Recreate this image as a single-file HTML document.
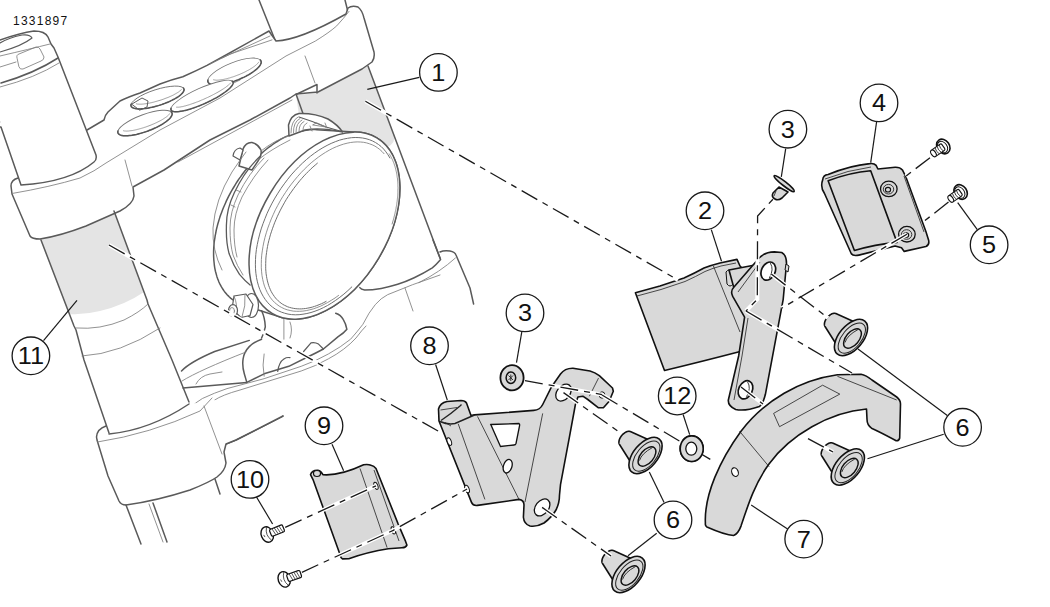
<!DOCTYPE html>
<html><head><meta charset="utf-8">
<style>
html,body{margin:0;padding:0;background:#fff;width:1050px;height:607px;overflow:hidden}
svg{display:block;position:absolute;left:0;top:0}
.c{fill:#fff;stroke:#1a1a1a;stroke-width:1.3}
.t{font-family:"Liberation Sans",sans-serif;font-size:23px;fill:#111;text-anchor:middle}
.ld{stroke:#1a1a1a;stroke-width:1.2;fill:none}
.ds{stroke:#1a1a1a;stroke-width:1.3;fill:none;stroke-dasharray:18 6 6 6}
.dw{stroke:#fff;stroke-width:3;fill:none}
.fk{stroke:#5a5a5a;stroke-width:1.5;fill:#fff;stroke-linejoin:round;stroke-linecap:round}
.fo{stroke:#5a5a5a;stroke-width:1.5;fill:none;stroke-linejoin:round;stroke-linecap:round}
.fl{stroke:#7e7e7e;stroke-width:0.85;fill:none;stroke-linecap:round}
.gb{fill:#e4e4e4;stroke:none}
.pt{fill:#d9d9d9;stroke:#111;stroke-width:1.6;stroke-linejoin:round}
.pl{fill:none;stroke:#222;stroke-width:0.8}
.pw{fill:#fff;stroke:#111;stroke-width:1.3}
</style></head><body>
<svg width="1050" height="607" viewBox="0 0 1050 607">
<text x="13" y="25" style="font-family:'Liberation Sans',sans-serif;font-size:12px;letter-spacing:1.25px" fill="#111">1331897</text>
<path class="gb" d="M296,95 L317,93 L367,66.5 L368,66 L395,137 Q393,147 382,149 Q362,146 345,138 L300,122 Z"/>
<path class="gb" d="M40,239 L86,226 L114,211 L144,292 Q125,305 100,311 Q84,315 69,314 Z"/>
<path d="M258,0 L276,41 Q300,40 348,14 L344,0 Z" fill="#fff"/>
<path class="fo" d="M259,0 L275,40 M345,0 L348,12"/>
<path class="fo" d="M368,66 L440,258"/>
<path class="fo" d="M296,94 L306,122"/>
<path class="fk" d="M11,186 Q11,180 18,178 L30,172 L87,130 L104,120 Q105,115 108,112 L120,101 Q128,97 140,93 L160,84 Q170,80 182.8,76.7 Q196,71 207,65.4 L223.3,56.5 L269,31 L271,34 L276,41 Q300,40 346,14 L348,8 Q352,5 358,7 Q362,10 364,18 L374,52 Q375,58 372,62 L362,69 L318,92 L296,94 L290,98 L250,120 L210,140 L164,170 L133,187 L134,196 Q133,204 120,211 L86,226 Q60,236 40,239 Q32,239 30,236 L12,194 Z"/>
<path class="fl" d="M12,193.5 Q50,187 80,178 Q95,171 106,163 L160,130 L220,98 L286,56 L315.3,41.1 Q330,32 336.7,25.9 Q344,18 349,11.4"/>
<path class="fl" d="M172,112 L240,80"/>
<path class="fl" d="M210,64 L230,54.1 L272,39.9 M222,58 L270,36"/>
<path class="fl" d="M125,160 L132,186"/>
<path class="fl" d="M305,56 L315,83"/>
<path class="fo" d="M296,94.5 L317,84.5 L317,93"/>
<path class="fl" d="M178,162 L292,100"/>
<ellipse cx="157.5" cy="97.5" rx="27.8" ry="8" transform="rotate(-17.8 157.5 97.5)" fill="#fff" stroke="#777" stroke-width="0.9"/>
<path d="M183.0,87.7 L183.4,88.0 L183.7,88.4 L183.9,88.9 L184.1,89.3 L184.1,89.8 L184.0,90.4 L183.8,90.9 L183.6,91.5 L183.2,92.1 L182.7,92.7 L182.2,93.4 L181.5,94.0 L180.8,94.7 L180.0,95.4 L179.1,96.1 L178.1,96.8 L177.0,97.5 L175.9,98.2 L174.7,98.9 L173.4,99.5 L172.1,100.2 L170.7,100.9 L169.3,101.6 L167.8,102.2 L166.3,102.8 L164.8,103.4 L163.2,104.0 L161.6,104.6 L160.0,105.1 L158.4,105.6 L156.7,106.1 L155.1,106.5 L153.5,106.9 L151.9,107.3 L150.3,107.6 L148.8,107.9 L147.3,108.2 L145.8,108.4 L144.4,108.6 L143.0,108.7 L141.7,108.8 L140.4,108.9 L139.2,108.9 L138.0,108.9 L137.0,108.8 L136.0,108.7 L135.1,108.5 L134.2,108.3 L133.5,108.1 L132.8,107.8 L132.3,107.5 L131.8,107.2 L131.4,106.8 L131.2,106.3 L131.0,105.9 L130.9,105.4 L130.9,104.9 L131.1,104.3 L131.3,103.8" fill="none" stroke="#555" stroke-width="1.5"/>
<path d="M181.6,89.3 L181.3,89.6 L181.0,90.0 L180.6,90.3 L180.3,90.7 L179.8,91.0 L179.3,91.4 L178.8,91.8 L178.3,92.2 L177.7,92.5 L177.1,92.9 L176.4,93.3 L175.7,93.7 L175.0,94.1 L174.2,94.5 L173.4,95.0 L172.6,95.4 L171.7,95.8 L170.8,96.2 L169.9,96.6 L169.0,97.0 L168.1,97.4 L167.1,97.8 L166.1,98.1 L165.1,98.5 L164.1,98.9 L163.1,99.3 L162.1,99.6 L161.1,100.0 L160.0,100.3 L159.0,100.6 L157.9,100.9 L156.9,101.2 L155.8,101.5 L154.8,101.8 L153.8,102.1 L152.8,102.3 L151.8,102.6 L150.8,102.8 L149.8,103.0 L148.8,103.2 L147.9,103.4 L147.0,103.5 L146.1,103.7 L145.2,103.8 L144.3,103.9 L143.5,104.0 L142.7,104.1 L142.0,104.1 L141.2,104.2 L140.5,104.2 L139.9,104.2 L139.2,104.2 L138.7,104.2 L138.1,104.1 L137.6,104.1 L137.1,104.0 L136.7,103.9 L136.3,103.7 L136.0,103.6" fill="none" stroke="#888" stroke-width="0.8"/>
<ellipse cx="234.5" cy="71.5" rx="28.5" ry="9" transform="rotate(-21.6 234.5 71.5)" fill="#fff" stroke="#777" stroke-width="0.9"/>
<path d="M259.8,59.6 L260.3,60.0 L260.7,60.4 L260.9,60.9 L261.1,61.4 L261.2,61.9 L261.2,62.5 L261.1,63.2 L260.8,63.8 L260.5,64.5 L260.1,65.2 L259.6,66.0 L259.0,66.7 L258.3,67.5 L257.5,68.3 L256.7,69.1 L255.7,69.9 L254.7,70.7 L253.6,71.5 L252.4,72.3 L251.2,73.1 L249.9,74.0 L248.5,74.8 L247.1,75.5 L245.7,76.3 L244.2,77.1 L242.6,77.8 L241.0,78.5 L239.5,79.2 L237.8,79.9 L236.2,80.5 L234.6,81.1 L233.0,81.6 L231.3,82.1 L229.7,82.6 L228.1,83.1 L226.6,83.5 L225.0,83.8 L223.5,84.1 L222.1,84.4 L220.6,84.6 L219.3,84.7 L218.0,84.8 L216.7,84.9 L215.5,84.9 L214.4,84.9 L213.4,84.8 L212.4,84.7 L211.6,84.5 L210.8,84.2 L210.1,84.0 L209.5,83.6 L208.9,83.2 L208.5,82.8 L208.2,82.4 L208.0,81.9 L207.8,81.3 L207.8,80.8 L207.9,80.1 L208.0,79.5" fill="none" stroke="#555" stroke-width="1.5"/>
<path d="M258.9,61.8 L258.6,62.2 L258.4,62.6 L258.0,63.0 L257.7,63.4 L257.3,63.9 L256.8,64.3 L256.3,64.8 L255.8,65.2 L255.2,65.7 L254.6,66.2 L254.0,66.6 L253.3,67.1 L252.6,67.6 L251.8,68.1 L251.0,68.6 L250.2,69.1 L249.4,69.6 L248.5,70.1 L247.6,70.5 L246.7,71.0 L245.8,71.5 L244.8,72.0 L243.8,72.5 L242.9,72.9 L241.8,73.4 L240.8,73.8 L239.8,74.3 L238.8,74.7 L237.7,75.1 L236.7,75.5 L235.6,75.9 L234.6,76.3 L233.5,76.7 L232.5,77.0 L231.4,77.3 L230.4,77.7 L229.4,78.0 L228.4,78.2 L227.4,78.5 L226.4,78.8 L225.4,79.0 L224.5,79.2 L223.6,79.4 L222.7,79.6 L221.8,79.7 L221.0,79.8 L220.2,79.9 L219.4,80.0 L218.6,80.1 L217.9,80.1 L217.2,80.2 L216.5,80.2 L215.9,80.1 L215.3,80.1 L214.8,80.0 L214.3,79.9 L213.8,79.8 L213.4,79.7 L213.1,79.6" fill="none" stroke="#888" stroke-width="0.8"/>
<ellipse cx="145" cy="123" rx="28.8" ry="8.5" transform="rotate(-20.3 145 123)" fill="#fff" stroke="#777" stroke-width="0.9"/>
<path d="M170.9,111.6 L171.3,112.0 L171.7,112.4 L172.0,112.9 L172.1,113.4 L172.2,113.9 L172.1,114.5 L172.0,115.1 L171.7,115.7 L171.4,116.3 L170.9,117.0 L170.4,117.7 L169.8,118.4 L169.0,119.2 L168.2,119.9 L167.3,120.7 L166.3,121.5 L165.3,122.2 L164.1,123.0 L162.9,123.8 L161.6,124.6 L160.3,125.3 L158.9,126.1 L157.5,126.9 L156.0,127.6 L154.4,128.3 L152.9,129.0 L151.2,129.7 L149.6,130.3 L148.0,131.0 L146.3,131.6 L144.7,132.1 L143.0,132.6 L141.4,133.1 L139.7,133.6 L138.1,134.0 L136.5,134.4 L135.0,134.7 L133.4,135.0 L132.0,135.3 L130.5,135.5 L129.2,135.6 L127.8,135.7 L126.6,135.8 L125.4,135.8 L124.3,135.7 L123.3,135.7 L122.3,135.5 L121.4,135.4 L120.7,135.1 L120.0,134.9 L119.4,134.5 L118.9,134.2 L118.5,133.8 L118.2,133.4 L117.9,132.9 L117.8,132.4 L117.8,131.8 L117.9,131.2 L118.1,130.6" fill="none" stroke="#555" stroke-width="1.5"/>
<path d="M169.7,113.6 L169.5,114.0 L169.2,114.3 L168.8,114.7 L168.5,115.1 L168.0,115.5 L167.6,115.9 L167.0,116.4 L166.5,116.8 L165.9,117.2 L165.3,117.7 L164.6,118.1 L163.9,118.6 L163.1,119.1 L162.4,119.5 L161.6,120.0 L160.7,120.5 L159.9,120.9 L159.0,121.4 L158.1,121.8 L157.1,122.3 L156.2,122.8 L155.2,123.2 L154.2,123.7 L153.2,124.1 L152.1,124.5 L151.1,125.0 L150.0,125.4 L149.0,125.8 L147.9,126.2 L146.8,126.6 L145.8,127.0 L144.7,127.3 L143.6,127.7 L142.6,128.0 L141.5,128.3 L140.5,128.6 L139.4,128.9 L138.4,129.2 L137.4,129.4 L136.4,129.7 L135.4,129.9 L134.5,130.1 L133.5,130.3 L132.6,130.5 L131.8,130.6 L130.9,130.7 L130.1,130.8 L129.3,130.9 L128.5,131.0 L127.8,131.0 L127.1,131.1 L126.5,131.1 L125.8,131.1 L125.3,131.0 L124.7,131.0 L124.2,130.9 L123.8,130.8 L123.4,130.7 L123.0,130.5" fill="none" stroke="#888" stroke-width="0.8"/>
<ellipse cx="202" cy="96" rx="34" ry="8" transform="rotate(-24.3 202 96)" fill="#fff" stroke="#777" stroke-width="0.9"/>
<path d="M231.7,80.8 L232.2,81.1 L232.6,81.5 L232.9,81.9 L233.1,82.3 L233.2,82.9 L233.1,83.4 L232.9,84.0 L232.6,84.7 L232.2,85.3 L231.7,86.1 L231.1,86.8 L230.4,87.6 L229.5,88.5 L228.6,89.3 L227.6,90.2 L226.4,91.1 L225.2,92.0 L223.9,93.0 L222.5,93.9 L221.0,94.9 L219.5,95.9 L217.9,96.8 L216.2,97.8 L214.5,98.7 L212.7,99.7 L210.9,100.6 L209.1,101.5 L207.2,102.4 L205.3,103.3 L203.4,104.1 L201.5,104.9 L199.6,105.7 L197.7,106.4 L195.9,107.1 L194.0,107.8 L192.2,108.4 L190.4,109.0 L188.7,109.5 L187.0,110.0 L185.3,110.4 L183.8,110.8 L182.3,111.1 L180.8,111.3 L179.5,111.5 L178.2,111.7 L177.0,111.8 L175.9,111.8 L174.9,111.7 L174.0,111.6 L173.3,111.5 L172.6,111.3 L172.0,111.0 L171.5,110.7 L171.2,110.3 L171.0,109.9 L170.9,109.4 L170.9,108.9 L171.0,108.3 L171.2,107.7" fill="none" stroke="#555" stroke-width="1.5"/>
<path d="M230.7,82.8 L230.4,83.2 L230.0,83.6 L229.6,84.0 L229.1,84.5 L228.6,84.9 L228.1,85.4 L227.5,85.9 L226.8,86.4 L226.1,86.9 L225.4,87.5 L224.6,88.0 L223.8,88.6 L222.9,89.1 L222.0,89.7 L221.0,90.3 L220.1,90.9 L219.0,91.5 L218.0,92.1 L216.9,92.7 L215.8,93.3 L214.7,93.9 L213.5,94.5 L212.4,95.1 L211.2,95.7 L210.0,96.3 L208.8,96.9 L207.5,97.5 L206.3,98.0 L205.1,98.6 L203.8,99.2 L202.6,99.7 L201.3,100.2 L200.1,100.8 L198.8,101.3 L197.6,101.8 L196.4,102.2 L195.2,102.7 L194.0,103.1 L192.8,103.5 L191.7,103.9 L190.5,104.3 L189.4,104.7 L188.3,105.0 L187.3,105.3 L186.2,105.6 L185.3,105.9 L184.3,106.1 L183.4,106.4 L182.5,106.6 L181.7,106.7 L180.9,106.9 L180.1,107.0 L179.4,107.1 L178.7,107.2 L178.1,107.2 L177.5,107.2 L177.0,107.2 L176.5,107.2 L176.1,107.1" fill="none" stroke="#888" stroke-width="0.8"/>
<path class="fo" style="stroke-width:1" d="M132,104 L142,98 L148,101 L147,107 L140,110 Z"/>
<path class="fk" d="M-5,42 L0,40 Q20,33 34,31 Q45,31 48,37 L51,44 L54,48 L58,57 L96,155 Q97,160 94,162 Q70,182 21,185 L1,127 L-5,127 Z"/>
<path class="fo" d="M1,83 Q35,73 58,58"/>
<path class="fl" d="M0,87 Q35,78 59,63"/>
<path class="fo" style="stroke-width:1.2" d="M0,52 Q22,46 32,38 Q30,34 22,35 Q8,38 0,43"/>
<path class="fl" d="M0,56 Q30,49 50,44"/>
<path class="fl" d="M17,58 Q16,55 19,54 L36,47 Q39,47 40,49 L44,57 Q44,60 41,61 L23,69 Q20,70 19,67 Z"/>
<path class="fl" d="M0,67 L16,62"/>
<path class="fl" d="M0,122 L0,122"/>
<path class="fk" d="M243.0,305.1 L241.5,304.6 L240.0,304.0 L238.6,303.3 L237.2,302.6 L235.8,301.8 L234.4,300.9 L233.1,300.0 L231.9,299.1 L230.6,298.1 L229.4,297.0 L228.3,295.9 L227.1,294.7 L226.1,293.5 L225.0,292.2 L224.0,290.9 L223.1,289.5 L222.2,288.1 L221.3,286.7 L220.5,285.1 L219.7,283.6 L218.9,282.0 L218.3,280.3 L217.6,278.6 L217.0,276.9 L216.5,275.1 L216.0,273.3 L215.5,271.5 L215.1,269.6 L214.7,267.6 L214.4,265.7 L214.2,263.7 L214.0,261.7 L213.8,259.6 L213.7,257.6 L213.6,255.5 L213.6,253.3 L213.6,251.2 L213.7,249.0 L213.8,246.8 L214.0,244.6 L214.2,242.4 L214.5,240.1 L214.9,237.8 L215.2,235.6 L215.7,233.3 L216.1,231.0 L216.6,228.7 L217.2,226.4 L217.8,224.0 L218.5,221.7 L219.2,219.4 L219.9,217.1 L220.7,214.7 L221.6,212.4 L222.5,210.1 L223.4,207.8 L224.4,205.5 L225.4,203.2 L226.4,200.9 L227.5,198.6 L228.6,196.4 L229.8,194.1 L231.0,191.9 L232.3,189.7 L233.6,187.5 L234.9,185.3 L236.2,183.2 L237.6,181.0 L239.0,178.9 L240.5,176.9 L242.0,174.8 L243.5,172.8 L245.0,170.8 L246.6,168.9 L248.2,167.0 L249.8,165.1 L251.5,163.3 L253.1,161.5 L254.8,159.7 L256.5,158.0 L258.3,156.3 L260.0,154.7 L261.8,153.1 L263.6,151.5 L265.4,150.0 L267.2,148.5 L269.0,147.1 L270.9,145.8 L272.7,144.5 L274.6,143.2 L276.4,142.0 L278.3,140.8 L280.2,139.7 L282.0,138.7 L283.9,137.7 L285.8,136.7 L287.7,135.9 L289.6,135.0 L291.5,134.3 L293.3,133.5 L295.2,132.9 L297.1,132.3 L298.9,131.8 L300.8,131.3 L302.6,130.9 L304.4,130.5 L306.2,130.2 L308.0,130.0 L309.8,129.8 L311.6,129.7 L313.3,129.6 L315.0,129.6 L316.7,129.7 L357.5,132.2 L359.3,132.3 L361.0,132.5 L362.7,132.8 L364.4,133.1 L366.1,133.5 L367.7,133.9 L369.3,134.4 L370.9,135.0 L372.4,135.6 L373.9,136.3 L375.4,137.1 L376.8,137.9 L378.2,138.8 L379.6,139.7 L380.9,140.7 L382.2,141.8 L383.5,142.9 L384.7,144.0 L385.9,145.3 L387.0,146.5 L388.1,147.9 L389.1,149.3 L390.1,150.7 L391.0,152.2 L392.0,153.7 L392.8,155.3 L393.6,157.0 L394.4,158.7 L395.1,160.4 L395.8,162.2 L396.4,164.0 L397.0,165.8 L397.5,167.7 L397.9,169.7 L398.4,171.7 L398.7,173.7 L399.0,175.7 L399.3,177.8 L399.5,180.0 L399.7,182.1 L399.8,184.3 L399.9,186.5 L399.9,188.7 L399.8,191.0 L399.7,193.3 L399.6,195.6 L399.4,197.9 L399.1,200.3 L398.8,202.6 L398.5,205.0 L398.1,207.4 L397.6,209.8 L397.1,212.2 L396.6,214.7 L396.0,217.1 L395.3,219.5 L394.6,222.0 L393.9,224.4 L393.1,226.9 L392.2,229.3 L391.4,231.8 L390.4,234.2 L389.4,236.7 L388.4,239.1 L387.4,241.5 L386.2,243.9 L385.1,246.3 L383.9,248.7 L382.7,251.1 L381.4,253.4 L380.1,255.7 L378.7,258.0 L377.3,260.3 L375.9,262.6 L374.4,264.8 L372.9,267.0 L371.4,269.2 L369.8,271.4 L368.3,273.5 L366.6,275.6 L365.0,277.6 L363.3,279.6 L361.6,281.6 L359.9,283.6 L358.1,285.5 L356.3,287.3 L354.5,289.2 L352.7,290.9 L350.9,292.7 L349.0,294.3 L347.1,296.0 L345.2,297.6 L343.3,299.1 L341.4,300.6 L339.5,302.0 L337.6,303.4 L335.6,304.8 L333.6,306.0 L331.7,307.3 L329.7,308.4 L327.7,309.5 L325.8,310.6 L323.8,311.6 L321.8,312.5 L319.9,313.4 L317.9,314.2 L315.9,315.0 L314.0,315.7 L312.0,316.3 L310.1,316.9 L308.1,317.4 L306.2,317.8 L304.3,318.2 L302.4,318.5 L300.5,318.8 L298.7,319.0 L296.8,319.1 L295.0,319.2 L293.2,319.2 L291.4,319.1 L289.6,319.0 L287.9,318.8 L286.2,318.5 L284.5,318.2 L282.8,317.8 L281.2,317.4 L279.6,316.9 Z"/>
<path class="fk" d="M239,166 L243,149 Q246,142 252,142.5 Q258,144 261,150 Q262,156 258,161 L252,170 Z"/>
<path class="fk" style="stroke-width:1.2" d="M233,156 Q234,149 240,148 L243,150 L240,160 Z"/>
<path class="fk" d="M289,136 L288.5,125 Q291,115 299,113.5 Q315,113 328,119 Q338,125 342.5,132 Q320,127 305,130 Z"/>
<path class="fo" style="stroke-width:1.1" d="M299,117 Q312,121 326,127 L340,131"/>
<path class="fl" d="M291,133 Q291,121 298,117 M293.5,133 Q293,122 300,118.5 M296,132 Q296,123 302,120 M299,131 Q299,124 304,121.5 M303,130 Q303,125 307,123"/>
<path class="fl" d="M313,125 L326,127 L317,123 Z"/>
<path class="fl" d="M258,160 Q270,150 290,140 M261,151 Q275,140 288,136"/>
<path class="fl" d="M222,270 Q212,250 213,228 Q215,200 232,172 Q240,160 246,152"/>
<path class="fo" style="stroke-width:1.3" d="M260.7,155.8 Q245,170 234.3,192.8 Q226,210 226.4,227 Q226,242 229,253.3 Q233,265 239.5,274.4 Q245,281 250.1,285"/>
<path class="fl" d="M264,158 Q249,173 238,195 Q230,212 230,228 Q230,244 233,255 Q237,266 243,275"/>
<path class="fl" d="M268,160 Q253,176 242,197 Q234,214 234,230 Q234,246 237,257"/>
<path class="fl" d="M236,190 L241,192 M231,205 L235,207"/>
<path class="fl" d="M310,126 L312,131 M325,123 L327,128"/>
<ellipse cx="324.45" cy="225.64" rx="102.2" ry="63.2" transform="rotate(-59.16 324.45 225.64)" class="fk"/>
<path class="fl" style="stroke:#707070;stroke-width:1" d="M351.8,286.9 L347.9,290.6 L343.9,294.1 L339.8,297.3 L335.7,300.3 L331.6,303.0 L327.5,305.5 L323.3,307.7 L319.2,309.6 L315.0,311.2 L311.0,312.5 L306.9,313.5 L303.0,314.2 L299.1,314.7 L295.3,314.8 L291.6,314.6 L288.0,314.1 L284.6,313.2 L281.3,312.1 L278.2,310.7 L275.2,309.0 L272.4,307.0 L269.8,304.8 L267.4,302.2 L265.2,299.4 L263.2,296.3 L261.4,293.0 L259.8,289.5 L258.5,285.8 L257.4,281.8 L256.5,277.6 L255.9,273.3 L255.5,268.8 L255.4,264.2 L255.5,259.4 L255.8,254.5 L256.4,249.5 L257.3,244.4 L258.4,239.3 L259.7,234.1 L261.2,228.9 L263.0,223.7 L265.0,218.5 L267.1,213.3 L269.5,208.2 L272.1,203.1 L274.9,198.1 L277.9,193.2 L281.0,188.4 L284.3,183.8 L287.7,179.3 L291.2,174.9 L294.9,170.8 L298.7,166.8 L302.6,163.0 L306.5,159.5 L310.6,156.1 L314.6,153.1 L318.8,150.2 L322.9,147.7 L327.1,145.4 L331.2,143.4 L335.3,141.7 L339.4,140.2 L343.5,139.1 L347.5,138.3 L351.4,137.7 L355.2,137.5 L358.9,137.6 L362.6,138.0 L366.0,138.7 L369.4,139.7 L372.6,141.0 L375.6,142.6 L378.5,144.5 L381.2,146.6 L383.7,149.1 L385.9,151.8 L388.0,154.8 L389.9,158.0"/>
<path class="fl" d="M338.6,295.4 L335.0,298.0 L331.3,300.3 L327.7,302.5 L324.1,304.4 L320.5,306.2 L316.9,307.6 L313.3,308.9 L309.8,309.8 L306.3,310.6 L302.9,311.1 L299.6,311.3 L296.4,311.3 L293.2,311.1 L290.2,310.5 L287.2,309.8 L284.4,308.8 L281.7,307.5 L279.2,306.1 L276.8,304.3 L274.5,302.4 L272.4,300.2 L270.5,297.8 L268.8,295.2 L267.2,292.4 L265.8,289.4 L264.5,286.2 L263.5,282.8 L262.7,279.3 L262.0,275.6 L261.6,271.8 L261.3,267.8 L261.3,263.7 L261.4,259.5 L261.7,255.2 L262.3,250.9 L263.0,246.4 L263.9,241.9 L265.0,237.3 L266.3,232.8 L267.8,228.1 L269.5,223.5 L271.3,218.9 L273.3,214.4 L275.4,209.8 L277.8,205.3 L280.2,200.9 L282.8,196.5 L285.6,192.3 L288.4,188.1 L291.4,184.1 L294.5,180.2 L297.7,176.4 L301.0,172.7 L304.3,169.3 L307.7,166.0 L311.2,162.8 L314.8,159.9 L318.3,157.2 L322.0,154.6 L325.6,152.3 L329.2,150.2 L332.8,148.3 L336.4,146.7 L340.0,145.3 L343.6,144.1 L347.1,143.2 L350.5,142.5 L353.9,142.1 L357.2,141.9 L360.4,142.0 L363.6,142.3 L366.6,142.9 L369.5,143.8 L372.2,144.8 L374.9,146.1 L377.4,147.7 L379.8,149.5 L382.0,151.5 L384.0,153.7"/>
<path class="fl" style="stroke:#707070;stroke-width:1" d="M326.1,301.4 L323.8,302.6 L321.5,303.7 L319.1,304.7 L316.8,305.6 L314.5,306.4 L312.3,307.1 L310.0,307.7 L307.8,308.1 L305.6,308.5 L303.5,308.7 L301.4,308.9 L299.3,308.9 L297.2,308.8 L295.2,308.6 L293.3,308.3 L291.4,307.9 L289.5,307.4 L287.7,306.8 L286.0,306.0 L284.3,305.2 L282.7,304.3 L281.1,303.2 L279.6,302.0 L278.2,300.8 L276.8,299.4 L275.5,298.0 L274.3,296.4 L273.2,294.8 L272.1,293.1 L271.1,291.3 L270.2,289.3 L269.4,287.4 L268.6,285.3 L268.0,283.1 L267.4,280.9 L266.9,278.6 L266.5,276.3 L266.1,273.8 L265.9,271.3 L265.7,268.8 L265.7,266.2 L265.7,263.5 L265.8,260.8 L265.9,258.0 L266.2,255.2 L266.6,252.4 L267.0,249.5 L267.5,246.6 L268.1,243.7 L268.8,240.7 L269.6,237.8 L270.4,234.8 L271.4,231.8 L272.4,228.8 L273.5,225.8 L274.6,222.8 L275.9,219.8 L277.2,216.8 L278.6,213.8 L280.0,210.9 L281.5,208.0 L283.1,205.1 L284.7,202.2 L286.4,199.3 L288.2,196.5 L290.0,193.8 L291.9,191.1 L293.8,188.4 L295.8,185.8 L297.8,183.2 L299.8,180.7 L301.9,178.3 L304.0,175.9 L306.2,173.6 L308.4,171.4 L310.6,169.2 L312.9,167.1 L315.2,165.1 L317.4,163.2"/>
<path class="fl" d="M389.3,153.9 L389.7,154.5 L390.1,155.2 L390.4,155.8 L390.8,156.5 L391.2,157.1 L391.5,157.8 L391.8,158.5 L392.2,159.2 L392.5,159.9 L392.8,160.6 L393.1,161.3 L393.4,162.0 L393.7,162.7 L394.0,163.5 L394.2,164.2 L394.5,165.0 L394.7,165.8 L395.0,166.5 L395.2,167.3 L395.4,168.1 L395.6,168.9 L395.8,169.7 L396.0,170.5 L396.2,171.3 L396.4,172.2 L396.6,173.0 L396.7,173.8 L396.9,174.7 L397.0,175.5 L397.1,176.4 L397.2,177.3 L397.4,178.1 L397.5,179.0 L397.6,179.9 L397.6,180.8 L397.7,181.7 L397.8,182.6 L397.8,183.5 L397.9,184.4 L397.9,185.3 L397.9,186.2 L398.0,187.2 L398.0,188.1 L398.0,189.0 L397.9,190.0 L397.9,190.9 L397.9,191.9 L397.9,192.8 L397.8,193.8 L397.8,194.8 L397.7,195.7 L397.6,196.7 L397.5,197.7 L397.4,198.7 L397.3,199.7 L397.2,200.7 L397.1,201.6 L396.9,202.6 L396.8,203.6 L396.7,204.6 L396.5,205.6 L396.3,206.6 L396.1,207.7 L396.0,208.7 L395.8,209.7 L395.6,210.7 L395.3,211.7 L395.1,212.7 L394.9,213.8 L394.6,214.8 L394.4,215.8 L394.1,216.8 L393.9,217.9 L393.6,218.9 L393.3,219.9 L393.0,220.9 L392.7,222.0 L392.4,223.0 L392.1,224.0"/>
<ellipse cx="251.5" cy="305.5" rx="7" ry="12" class="fk" style="stroke-width:1.2"/>
<path class="fk" style="stroke-width:1.2" d="M234,296 L246,294 L253,304.5 L250,315.5 L241,317.5 L232,309 Z"/>
<path class="fl" d="M245,294.5 Q246,306 242,317 M234,296 Q238,305 236,313"/>
<ellipse cx="233" cy="310.5" rx="4.5" ry="5.8" class="fk" style="stroke-width:1.2"/>
<ellipse cx="232" cy="311" rx="2.5" ry="3.5" class="fl"/>
<path class="fo" d="M335.7,313.2 Q341,315 343.2,319.4 Q346,324 346.9,329.3 Q344,333 338.2,336.7 L323.4,349 Q316,353 308.6,356.5 L288.8,366.3 L264.1,373.8 L246.8,382.4"/>
<path class="fo" d="M261.6,339.2 Q254,342 249.3,346.6 Q244,352 243.1,358.9 Q242,366 244.3,373.8 L246.8,382.4"/>
<path class="fo" d="M261.6,310.8 Q265,318 265.3,326.8 Q264,333 261.6,338"/>
<path class="fo" d="M183,388 L246.8,382.4"/>
<path class="fo" d="M181.5,371 Q190,362 214.7,351.5 L249.3,340.4"/>
<path class="fl" d="M182,381 Q200,370 246,352"/>
<path class="fl" d="M196,384 Q200,376 210,374 L222,372"/>
<path class="fo" style="stroke-width:1.2" d="M277.7,371.3 Q279,362 283.9,358.9 Q287,357 290,357.7"/>
<path class="fo" style="stroke-width:1.2" d="M303.6,351.5 L311,342.9 Q315,342 318.5,344.1 L323.4,349"/>
<path class="fl" d="M283.9,319.4 L283.9,339.2 M264.1,354 Q262,365 264.1,376.2 M290,322 Q293,330 290,338"/>
<path class="fl" d="M190,408.3 Q196,402 202.4,398.5 Q214,393 227,388.6 L264.1,378.7 L301.2,366.3 Q316,361 328.3,354 Q341,347 350.6,339.2 Q357,332 362.9,324.3 Q369,312 375.3,304.6 Q381,298 387.6,294.7 L412.3,284.8 L440,275"/>
<path class="fl" d="M214.7,400 Q222,395 240,390 L301.2,371 Q316,366 328.3,358.9 Q345,350 356,338 Q362,330 366,326"/>
<path class="fl" d="M405,288 L413,311"/>
<path class="fo" d="M433,240 L440.6,259.5 Q436,265 432.3,267.8 Q424,273 414.2,277.7 Q405,282 397.7,284.3 Q389,287 381.2,288.4 Q372,290 364.7,290 Q361,289.5 359.8,287.6"/>
<path class="fo" d="M440,252 Q444,250 450,251 Q455,252 456,255 L470,288 L473.6,304"/>
<path class="fl" d="M455.4,258 Q440,272 419,282.6"/>
<path class="fo" d="M226,444 L236,440 L283,416"/>
<path class="fo" d="M41,240 L74,326 L76,330 L84,360 L109,433"/>
<path class="fo" d="M114,211 L147,300 L148,304 L172,360 L189,402"/>
<path class="fl" d="M76,328 Q100,330 124,320 Q140,312 148,304"/>
<path class="fl" d="M82,356 Q120,354 160,328"/>
<path d="M98,430 Q96,434 97,440 L108,476 L119,501 Q121,505 126,505 Q156,501 190,490 Q210,482 217,477 Q225,471 226,463 L224,452 L226,444 L283,416 L250,395 L190,404 L109,434 Z" fill="#fff"/>
<path class="fo" d="M106,426 Q97,429 96.5,437 L97,440 L108,476 L119,501 Q121,505 126,505 Q156,501 190,490 Q210,482 217,477 Q225,471 226,463 L224,452 L226,444 L236,440 L283,416"/>
<path class="fo" d="M109,434 Q150,430 189,404"/>
<path class="fl" d="M97.5,442 Q150,434 200,411 L212,398"/>
<path class="fl" d="M204,406 L222,454"/>
<path class="fo" d="M126,505 L141,544"/>
<path class="fl" d="M149,504 L163,542"/>
<path class="fo" d="M153,503 L167,542"/>
<path class="fo" d="M215,479 L220,494"/>
<path class="pt" d="M635.4,292.8 L660,286 Q672,282 684,278 Q695,273 704,268 Q712,265 720,263 L737,259.4 L740,266 L746,272 L746,350 Q700,362 664.5,370.5 Z"/>
<path class="pl" d="M713.4,266 L740,332"/>
<path class="pl" d="M637,296 L661,289.5 Q673,285.5 685,281.5 Q696,276.5 705,271.5 Q713,268 721,266 L736,263"/>
<path class="pt" style="stroke-width:1" d="M726,272 Q729,268 732,272 L733,284 Q730,288 727,284 Z"/>
<path class="pt" d="M729,270 L755,265 L735,292 Z"/>
<path class="pt" d="M759.4,257.8 Q765,252 774.3,251.9 L781.7,252.5 Q786.5,255 786.5,263.7 L783.2,299.3 L774.3,346.8 L765.4,394.3 Q763,404 759.4,406.5 Q745,411.5 735.7,409.5 Q728,406 728.3,400.2 L738.7,355.7 L744.6,317.1 L732.7,296.4 Q730,291 734,287 Z"/>
<ellipse cx="768.3" cy="271.1" rx="6.8" ry="9.5" transform="rotate(25 768.3 271.1)" class="pw" style="stroke-width:1.7"/>
<path d="M770.3,263.1 Q774.3,269.1 769.3,278.1" class="pl" style="stroke-width:0.9"/>
<ellipse cx="745.5" cy="389.8" rx="6.8" ry="9.5" transform="rotate(25 745.5 389.8)" class="pw" style="stroke-width:1.7"/>
<path d="M747.5,381.8 Q751.5,387.8 746.5,396.8" class="pl" style="stroke-width:0.9"/>
<path class="pl" d="M734,400 L742,356 L748,318"/>
<path class="pl" d="M738,292 L760,262"/>
<path class="pt" style="stroke-width:1" d="M786,264 L789,266 L788,272 L785,270 Z"/>
<path class="pt" d="M822.7,179.9 Q823,175 828.1,174.5 Q850,165.5 869.8,163.6 Q874,163 876.1,165.4 L877.9,169 L895.1,167.2 Q900,167 902.4,169.9 L906,177.2 L925.9,231.5 L928.7,240.6 Q929.5,245 925.9,246.5 L904.2,251.4 L901.5,247.8 L895.1,246 L858.9,255.1 Q853,256.5 851.2,253.5 L824.5,193.5 Q820,187 822.7,179.9 Z"/>
<path class="pt" style="stroke-width:1.6" d="M828.1,180.8 Q850,172.5 870.7,170.8 L897,242.4 Q875,244.5 854.4,250.5 Z"/>
<path class="pl" d="M825,179 Q848,170 871,167"/>
<path class="pl" d="M904,176 L924,232"/>
<ellipse cx="888.8" cy="188.9" rx="8.3" ry="7.8" transform="rotate(0 888.8 188.9)" class="pt" style="stroke-width:1.3"/>
<ellipse cx="888.5" cy="189.20000000000002" rx="5.2" ry="4.8" transform="rotate(0 888.5 189.20000000000002)" class="pl" style="stroke-width:0.9"/>
<ellipse cx="888.0" cy="189.70000000000002" rx="2.6" ry="2.3" transform="rotate(0 888.0 189.70000000000002)" class="pt" style="stroke-width:1.1"/>
<ellipse cx="906.9" cy="234.2" rx="8.3" ry="7.8" transform="rotate(0 906.9 234.2)" class="pt" style="stroke-width:1.3"/>
<ellipse cx="906.6" cy="234.5" rx="5.2" ry="4.8" transform="rotate(0 906.6 234.5)" class="pl" style="stroke-width:0.9"/>
<ellipse cx="906.1" cy="235.0" rx="2.6" ry="2.3" transform="rotate(0 906.1 235.0)" class="pt" style="stroke-width:1.1"/>
<path class="pt" d="M438.9,420.8 L471.5,502.4 Q473,506 477.5,505.4 L519,499.4 Q524,500 524,505 L523.4,517.2 Q524,524 530,526 Q537,527 544,523 Q552,517 556,510 Q559.5,503 559.5,495 L560.5,484.6 L569.4,437.1 L575.4,404.5 L577.9,397 L582.8,396.2 L587.8,399.5 L598.5,407.8 L603.4,407.8 L609.2,401.2 L613.3,391.3 L612.5,388 L599.3,375.7 Q595,372.4 590,371 L573,368.2 Q565,368 560.5,374 L551.6,386.7 L542.7,404.5 Q540,410 533.8,410.4 L474.5,414.9 L471,415.5 L466.5,403 Q465,400.5 461,400.5 L447,401.5 Q440,403 438.5,409 L439,421 Z"/>
<path class="pl" d="M458.2,423.8 L484.9,499.4"/>
<path class="pl" d="M477.5,416.4 L519,499.4"/>
<path class="pl" d="M542.7,413.4 L525,502"/>
<path class="pl" d="M598.5,378.1 L589.4,396.2"/>
<path class="pw" d="M490.8,424.5 L519,423.5 Q520,424 519.5,426 L516,443.5 Q515.5,445 514,445 L500.5,446.5 Z"/>
<ellipse cx="507.7" cy="466.2" rx="4.2" ry="7" transform="rotate(18 507.7 466.2)" class="pw" />
<ellipse cx="542.1" cy="507.4" rx="6.5" ry="9.5" transform="rotate(38 542.1 507.4)" class="pw" />
<ellipse cx="563.5" cy="392.6" rx="6.5" ry="9.5" transform="rotate(38 563.5 392.6)" class="pw" />
<ellipse cx="602" cy="395" rx="2.8" ry="3.2" transform="rotate(0 602 395)" class="pw" style="stroke-width:1"/>
<ellipse cx="449.3" cy="441.6" rx="2" ry="4" transform="rotate(-20 449.3 441.6)" class="pw" style="stroke-width:1"/>
<ellipse cx="467.1" cy="489" rx="2" ry="4" transform="rotate(-20 467.1 489)" class="pw" style="stroke-width:1"/>
<path class="pl" style="stroke-width:1.5" d="M440,421.5 Q448,425 455,423.5 L474.5,415"/>
<path class="pl" style="stroke-width:1.4" d="M441,420.5 Q452,413 460,406 L461.5,404.5"/>
<path class="pl" d="M440.5,410 L457,407.5 M445,422.5 L451,426"/>
<path class="pt" d="M705.4,523.2 C704,495 720,460 741,431.2 C765,400 800,380 837.4,374.8 L861.1,374.2 Q866,375 872,380 L896.7,397 Q900.5,400 900.5,404 L899.7,438 Q899,441 896.2,440.7 Q880,432 871.5,428.2 Q867,425 867,419.3 L866.5,409 C830,412 790,435 769,464 C755,483 748,505 741,526.1 Q738,534 733.6,535.5 Q725,535 706.9,527 Q705,526 705.4,523.2 Z"/>
<path class="pl" d="M739.5,431.2 L769.2,466.8"/>
<path class="pl" d="M837.4,376.3 L896.7,400"/>
<path class="pl" d="M773.6,413.4 L822.6,385.2 L839.8,394.1 L779.5,426.7 Z"/>
<ellipse cx="735" cy="472.1" rx="3.2" ry="4.5" transform="rotate(-20 735 472.1)" class="pw" style="stroke-width:1.1"/>
<path class="pt" d="M310.5,474.7 Q312,470 317.9,470.3 Q321,471 322.9,474.7 Q340,476 363.6,464.8 Q368,464 371,465.3 Q374,466 376,468.5 L398.2,524.1 L405.6,541.4 L406.9,545.1 Q406,547.5 401.9,547.8 L388.3,548.8 Q368,552 348.8,558.7 L342.6,558.9 Q340.5,558 340.2,555 L313,479.6 Z"/>
<path class="pl" d="M360,468.5 L387.1,547.6"/>
<path class="pl" d="M374,470 L399,541"/>
<ellipse cx="376" cy="485.8" rx="1.8" ry="3.8" transform="rotate(-20 376 485.8)" class="pw" style="stroke-width:1"/>
<ellipse cx="393.3" cy="530.3" rx="1.8" ry="3.8" transform="rotate(-20 393.3 530.3)" class="pw" style="stroke-width:1"/>
<ellipse cx="317" cy="473.5" rx="3.5" ry="3" transform="rotate(0 317 473.5)" class="pt" style="stroke-width:1.2"/>
<ellipse cx="512" cy="377.8" rx="11.6" ry="12.6" transform="rotate(0 512 377.8)" class="pt" style="stroke-width:1.8"/>
<ellipse cx="510.9" cy="377.7" rx="4.8" ry="5.7" transform="rotate(0 510.9 377.7)" class="pt" style="stroke-width:1.5"/>
<path class="pl" d="M508.5,375.5 L513,380 M513,375.5 L508.5,380 M510.8,374.5 L510.8,381" style="stroke-width:0.9"/>
<ellipse cx="691.7" cy="448.7" rx="11.5" ry="12.8" transform="rotate(0 691.7 448.7)" class="pt" />
<ellipse cx="691.3" cy="448.7" rx="5.5" ry="6.5" transform="rotate(0 691.3 448.7)" class="pw" />
<path class="pt" d="M779,187 L773,193 Q771,197 775,199 Q778,201 782,198 L788,192 Z"/>
<path class="pl" d="M776,191 L774,196"/>
<ellipse cx="784.2" cy="183.6" rx="12.8" ry="2.1" transform="rotate(38 784.2 183.6)" class="pt" style="stroke-width:1.6"/>
<g transform="translate(645.5,455.5)"><path class="pt" d="M-12.24,10.70 L-25.97,-11.05 L-26.11,-11.27 L-26.23,-11.51 L-26.33,-11.76 L-26.42,-12.03 L-26.49,-12.31 L-26.54,-12.60 L-26.57,-12.90 L-26.58,-13.22 L-26.58,-13.55 L-26.56,-13.88 L-26.52,-14.23 L-26.46,-14.58 L-26.39,-14.94 L-26.30,-15.30 L-26.19,-15.67 L-26.06,-16.04 L-25.92,-16.42 L-25.76,-16.79 L-25.58,-17.17 L-25.39,-17.55 L-25.19,-17.92 L-24.97,-18.29 L-24.73,-18.66 L-24.49,-19.03 L-24.23,-19.39 L-23.96,-19.74 L-23.68,-20.09 L-23.39,-20.42 L-23.09,-20.75 L-22.78,-21.07 L-22.46,-21.37 L-22.14,-21.67 L-21.81,-21.95 L-21.47,-22.21 L-21.14,-22.47 L-20.80,-22.71 L-20.45,-22.93 L-20.11,-23.13 L-19.76,-23.32 L-19.42,-23.50 L-19.08,-23.65 L-18.74,-23.79 L-18.40,-23.90 L-18.07,-24.00 L-17.74,-24.08 L-17.42,-24.14 L-17.11,-24.18 L-16.80,-24.20 L-16.50,-24.20 L-16.22,-24.18 L-15.94,-24.15 L-15.67,-24.09 L-15.42,-24.01 L-15.18,-23.91 L8.08,-13.51 L8.51,-13.29 L8.91,-13.04 L9.28,-12.76 L9.63,-12.44 L9.95,-12.08 L10.24,-11.70 L10.49,-11.29 L10.72,-10.84 L10.91,-10.37 L11.07,-9.87 L11.20,-9.34 L11.29,-8.79 L11.35,-8.22 L11.38,-7.63 L11.37,-7.02 L11.33,-6.38 L11.26,-5.74 L11.15,-5.08 L11.01,-4.40 L10.83,-3.72 L10.62,-3.02 L10.38,-2.32 L10.11,-1.62 L9.81,-0.91 L9.48,-0.20 L9.12,0.51 L8.74,1.21 L8.32,1.92 L7.88,2.61 L7.42,3.30 L6.93,3.97 L6.42,4.64 L5.89,5.29 L5.35,5.92 L4.78,6.53 L4.20,7.13 L3.61,7.71 L3.00,8.26 L2.38,8.79 L1.75,9.29 L1.12,9.77 L0.47,10.22 L-0.17,10.64 L-0.82,11.03 L-1.47,11.38 L-2.11,11.71 L-2.76,12.00 L-3.40,12.26 L-4.03,12.48 L-4.65,12.67 L-5.27,12.82 L-5.87,12.93 L-6.46,13.01 L-7.03,13.05 L-7.59,13.05 L-8.13,13.02 L-8.65,12.94 L-9.15,12.84 L-9.63,12.69 L-10.08,12.51 L-10.51,12.29 L-10.91,12.04 L-11.28,11.76 L-11.63,11.44 L-11.95,11.08 Z"/>
<ellipse cx="0" cy="0" rx="21.5" ry="12" transform="rotate(-50 0 0)" class="pt" />
<ellipse cx="0.8" cy="0.6" rx="18" ry="9.5" transform="rotate(-50 0.8 0.6)" class="pl" style="stroke-width:1"/>
<ellipse cx="1.5" cy="1" rx="11.5" ry="6.5" transform="rotate(-50 1.5 1)" class="pt" style="stroke-width:1.4"/>
<path d="M-6,5 Q-4,-2 7,-8" class="pl" style="stroke-width:0.9"/></g>
<g transform="translate(851,337.5)"><path class="pt" d="M-12.24,10.70 L-25.97,-11.05 L-26.11,-11.27 L-26.23,-11.51 L-26.33,-11.76 L-26.42,-12.03 L-26.49,-12.31 L-26.54,-12.60 L-26.57,-12.90 L-26.58,-13.22 L-26.58,-13.55 L-26.56,-13.88 L-26.52,-14.23 L-26.46,-14.58 L-26.39,-14.94 L-26.30,-15.30 L-26.19,-15.67 L-26.06,-16.04 L-25.92,-16.42 L-25.76,-16.79 L-25.58,-17.17 L-25.39,-17.55 L-25.19,-17.92 L-24.97,-18.29 L-24.73,-18.66 L-24.49,-19.03 L-24.23,-19.39 L-23.96,-19.74 L-23.68,-20.09 L-23.39,-20.42 L-23.09,-20.75 L-22.78,-21.07 L-22.46,-21.37 L-22.14,-21.67 L-21.81,-21.95 L-21.47,-22.21 L-21.14,-22.47 L-20.80,-22.71 L-20.45,-22.93 L-20.11,-23.13 L-19.76,-23.32 L-19.42,-23.50 L-19.08,-23.65 L-18.74,-23.79 L-18.40,-23.90 L-18.07,-24.00 L-17.74,-24.08 L-17.42,-24.14 L-17.11,-24.18 L-16.80,-24.20 L-16.50,-24.20 L-16.22,-24.18 L-15.94,-24.15 L-15.67,-24.09 L-15.42,-24.01 L-15.18,-23.91 L8.08,-13.51 L8.51,-13.29 L8.91,-13.04 L9.28,-12.76 L9.63,-12.44 L9.95,-12.08 L10.24,-11.70 L10.49,-11.29 L10.72,-10.84 L10.91,-10.37 L11.07,-9.87 L11.20,-9.34 L11.29,-8.79 L11.35,-8.22 L11.38,-7.63 L11.37,-7.02 L11.33,-6.38 L11.26,-5.74 L11.15,-5.08 L11.01,-4.40 L10.83,-3.72 L10.62,-3.02 L10.38,-2.32 L10.11,-1.62 L9.81,-0.91 L9.48,-0.20 L9.12,0.51 L8.74,1.21 L8.32,1.92 L7.88,2.61 L7.42,3.30 L6.93,3.97 L6.42,4.64 L5.89,5.29 L5.35,5.92 L4.78,6.53 L4.20,7.13 L3.61,7.71 L3.00,8.26 L2.38,8.79 L1.75,9.29 L1.12,9.77 L0.47,10.22 L-0.17,10.64 L-0.82,11.03 L-1.47,11.38 L-2.11,11.71 L-2.76,12.00 L-3.40,12.26 L-4.03,12.48 L-4.65,12.67 L-5.27,12.82 L-5.87,12.93 L-6.46,13.01 L-7.03,13.05 L-7.59,13.05 L-8.13,13.02 L-8.65,12.94 L-9.15,12.84 L-9.63,12.69 L-10.08,12.51 L-10.51,12.29 L-10.91,12.04 L-11.28,11.76 L-11.63,11.44 L-11.95,11.08 Z"/>
<ellipse cx="0" cy="0" rx="21.5" ry="12" transform="rotate(-50 0 0)" class="pt" />
<ellipse cx="0.8" cy="0.6" rx="18" ry="9.5" transform="rotate(-50 0.8 0.6)" class="pl" style="stroke-width:1"/>
<ellipse cx="1.5" cy="1" rx="11.5" ry="6.5" transform="rotate(-50 1.5 1)" class="pt" style="stroke-width:1.4"/>
<path d="M-6,5 Q-4,-2 7,-8" class="pl" style="stroke-width:0.9"/></g>
<g transform="translate(847.8,467)"><path class="pt" d="M-12.24,10.70 L-25.97,-11.05 L-26.11,-11.27 L-26.23,-11.51 L-26.33,-11.76 L-26.42,-12.03 L-26.49,-12.31 L-26.54,-12.60 L-26.57,-12.90 L-26.58,-13.22 L-26.58,-13.55 L-26.56,-13.88 L-26.52,-14.23 L-26.46,-14.58 L-26.39,-14.94 L-26.30,-15.30 L-26.19,-15.67 L-26.06,-16.04 L-25.92,-16.42 L-25.76,-16.79 L-25.58,-17.17 L-25.39,-17.55 L-25.19,-17.92 L-24.97,-18.29 L-24.73,-18.66 L-24.49,-19.03 L-24.23,-19.39 L-23.96,-19.74 L-23.68,-20.09 L-23.39,-20.42 L-23.09,-20.75 L-22.78,-21.07 L-22.46,-21.37 L-22.14,-21.67 L-21.81,-21.95 L-21.47,-22.21 L-21.14,-22.47 L-20.80,-22.71 L-20.45,-22.93 L-20.11,-23.13 L-19.76,-23.32 L-19.42,-23.50 L-19.08,-23.65 L-18.74,-23.79 L-18.40,-23.90 L-18.07,-24.00 L-17.74,-24.08 L-17.42,-24.14 L-17.11,-24.18 L-16.80,-24.20 L-16.50,-24.20 L-16.22,-24.18 L-15.94,-24.15 L-15.67,-24.09 L-15.42,-24.01 L-15.18,-23.91 L8.08,-13.51 L8.51,-13.29 L8.91,-13.04 L9.28,-12.76 L9.63,-12.44 L9.95,-12.08 L10.24,-11.70 L10.49,-11.29 L10.72,-10.84 L10.91,-10.37 L11.07,-9.87 L11.20,-9.34 L11.29,-8.79 L11.35,-8.22 L11.38,-7.63 L11.37,-7.02 L11.33,-6.38 L11.26,-5.74 L11.15,-5.08 L11.01,-4.40 L10.83,-3.72 L10.62,-3.02 L10.38,-2.32 L10.11,-1.62 L9.81,-0.91 L9.48,-0.20 L9.12,0.51 L8.74,1.21 L8.32,1.92 L7.88,2.61 L7.42,3.30 L6.93,3.97 L6.42,4.64 L5.89,5.29 L5.35,5.92 L4.78,6.53 L4.20,7.13 L3.61,7.71 L3.00,8.26 L2.38,8.79 L1.75,9.29 L1.12,9.77 L0.47,10.22 L-0.17,10.64 L-0.82,11.03 L-1.47,11.38 L-2.11,11.71 L-2.76,12.00 L-3.40,12.26 L-4.03,12.48 L-4.65,12.67 L-5.27,12.82 L-5.87,12.93 L-6.46,13.01 L-7.03,13.05 L-7.59,13.05 L-8.13,13.02 L-8.65,12.94 L-9.15,12.84 L-9.63,12.69 L-10.08,12.51 L-10.51,12.29 L-10.91,12.04 L-11.28,11.76 L-11.63,11.44 L-11.95,11.08 Z"/>
<ellipse cx="0" cy="0" rx="21.5" ry="12" transform="rotate(-50 0 0)" class="pt" />
<ellipse cx="0.8" cy="0.6" rx="18" ry="9.5" transform="rotate(-50 0.8 0.6)" class="pl" style="stroke-width:1"/>
<ellipse cx="1.5" cy="1" rx="11.5" ry="6.5" transform="rotate(-50 1.5 1)" class="pt" style="stroke-width:1.4"/>
<path d="M-6,5 Q-4,-2 7,-8" class="pl" style="stroke-width:0.9"/></g>
<g transform="translate(628.5,574.5)"><path class="pt" d="M-12.24,10.70 L-25.97,-11.05 L-26.11,-11.27 L-26.23,-11.51 L-26.33,-11.76 L-26.42,-12.03 L-26.49,-12.31 L-26.54,-12.60 L-26.57,-12.90 L-26.58,-13.22 L-26.58,-13.55 L-26.56,-13.88 L-26.52,-14.23 L-26.46,-14.58 L-26.39,-14.94 L-26.30,-15.30 L-26.19,-15.67 L-26.06,-16.04 L-25.92,-16.42 L-25.76,-16.79 L-25.58,-17.17 L-25.39,-17.55 L-25.19,-17.92 L-24.97,-18.29 L-24.73,-18.66 L-24.49,-19.03 L-24.23,-19.39 L-23.96,-19.74 L-23.68,-20.09 L-23.39,-20.42 L-23.09,-20.75 L-22.78,-21.07 L-22.46,-21.37 L-22.14,-21.67 L-21.81,-21.95 L-21.47,-22.21 L-21.14,-22.47 L-20.80,-22.71 L-20.45,-22.93 L-20.11,-23.13 L-19.76,-23.32 L-19.42,-23.50 L-19.08,-23.65 L-18.74,-23.79 L-18.40,-23.90 L-18.07,-24.00 L-17.74,-24.08 L-17.42,-24.14 L-17.11,-24.18 L-16.80,-24.20 L-16.50,-24.20 L-16.22,-24.18 L-15.94,-24.15 L-15.67,-24.09 L-15.42,-24.01 L-15.18,-23.91 L8.08,-13.51 L8.51,-13.29 L8.91,-13.04 L9.28,-12.76 L9.63,-12.44 L9.95,-12.08 L10.24,-11.70 L10.49,-11.29 L10.72,-10.84 L10.91,-10.37 L11.07,-9.87 L11.20,-9.34 L11.29,-8.79 L11.35,-8.22 L11.38,-7.63 L11.37,-7.02 L11.33,-6.38 L11.26,-5.74 L11.15,-5.08 L11.01,-4.40 L10.83,-3.72 L10.62,-3.02 L10.38,-2.32 L10.11,-1.62 L9.81,-0.91 L9.48,-0.20 L9.12,0.51 L8.74,1.21 L8.32,1.92 L7.88,2.61 L7.42,3.30 L6.93,3.97 L6.42,4.64 L5.89,5.29 L5.35,5.92 L4.78,6.53 L4.20,7.13 L3.61,7.71 L3.00,8.26 L2.38,8.79 L1.75,9.29 L1.12,9.77 L0.47,10.22 L-0.17,10.64 L-0.82,11.03 L-1.47,11.38 L-2.11,11.71 L-2.76,12.00 L-3.40,12.26 L-4.03,12.48 L-4.65,12.67 L-5.27,12.82 L-5.87,12.93 L-6.46,13.01 L-7.03,13.05 L-7.59,13.05 L-8.13,13.02 L-8.65,12.94 L-9.15,12.84 L-9.63,12.69 L-10.08,12.51 L-10.51,12.29 L-10.91,12.04 L-11.28,11.76 L-11.63,11.44 L-11.95,11.08 Z"/>
<ellipse cx="0" cy="0" rx="21.5" ry="12" transform="rotate(-50 0 0)" class="pt" />
<ellipse cx="0.8" cy="0.6" rx="18" ry="9.5" transform="rotate(-50 0.8 0.6)" class="pl" style="stroke-width:1"/>
<ellipse cx="1.5" cy="1" rx="11.5" ry="6.5" transform="rotate(-50 1.5 1)" class="pt" style="stroke-width:1.4"/>
<path d="M-6,5 Q-4,-2 7,-8" class="pl" style="stroke-width:0.9"/></g>
<g transform="translate(943.3,146.5) rotate(145)">
<ellipse cx="0" cy="0" rx="6.2" ry="7.8" class="pw" style="stroke-width:1.6"/>
<ellipse cx="1" cy="0" rx="4.6" ry="6.2" class="pw" style="stroke-width:1"/>
<rect x="0" y="-3.8" width="12" height="7.6" rx="1.5" class="pw" style="stroke-width:1.1"/>
<path d="M2.5,-3.6 Q4.0,0 2.5,3.6" class="pl" style="stroke-width:0.8"/>
<path d="M5,-3.6 Q6.5,0 5,3.6" class="pl" style="stroke-width:0.8"/>
<path d="M7.5,-3.6 Q9.0,0 7.5,3.6" class="pl" style="stroke-width:0.8"/>
<ellipse cx="12" cy="0" rx="2.2" ry="3.8" class="pw" style="stroke-width:1.1"/>
</g>
<g transform="translate(960.6,192) rotate(145)">
<ellipse cx="0" cy="0" rx="6.2" ry="7.8" class="pw" style="stroke-width:1.6"/>
<ellipse cx="1" cy="0" rx="4.6" ry="6.2" class="pw" style="stroke-width:1"/>
<rect x="0" y="-3.8" width="12" height="7.6" rx="1.5" class="pw" style="stroke-width:1.1"/>
<path d="M2.5,-3.6 Q4.0,0 2.5,3.6" class="pl" style="stroke-width:0.8"/>
<path d="M5,-3.6 Q6.5,0 5,3.6" class="pl" style="stroke-width:0.8"/>
<path d="M7.5,-3.6 Q9.0,0 7.5,3.6" class="pl" style="stroke-width:0.8"/>
<ellipse cx="12" cy="0" rx="2.2" ry="3.8" class="pw" style="stroke-width:1.1"/>
</g>
<g transform="translate(270.5,533.2) rotate(-22)">
<ellipse cx="-3.5" cy="0" rx="6" ry="7.9" class="pw" style="stroke-width:1.4"/>
<path d="M-1.5,-7 Q-6,0 -1.5,7" class="pl" style="stroke-width:0.7"/>
<path d="M-7,-1 L-6.5,1.5" class="pl" style="stroke-width:0.7"/>
<rect x="0" y="-3.7" width="14" height="7.4" rx="1.5" class="pw" style="stroke-width:1.2"/>
<line x1="3" y1="-3.4" x2="4.4" y2="3.4" class="pl" style="stroke-width:0.7"/>
<line x1="5.5" y1="-3.4" x2="6.9" y2="3.4" class="pl" style="stroke-width:0.7"/>
<line x1="8" y1="-3.4" x2="9.4" y2="3.4" class="pl" style="stroke-width:0.7"/>
<line x1="10.5" y1="-3.4" x2="11.9" y2="3.4" class="pl" style="stroke-width:0.7"/>
</g>
<g transform="translate(287.5,578.2) rotate(-19)">
<ellipse cx="-3.5" cy="0" rx="6" ry="7.9" class="pw" style="stroke-width:1.4"/>
<path d="M-1.5,-7 Q-6,0 -1.5,7" class="pl" style="stroke-width:0.7"/>
<path d="M-7,-1 L-6.5,1.5" class="pl" style="stroke-width:0.7"/>
<rect x="0" y="-3.7" width="14" height="7.4" rx="1.5" class="pw" style="stroke-width:1.2"/>
<line x1="3" y1="-3.4" x2="4.4" y2="3.4" class="pl" style="stroke-width:0.7"/>
<line x1="5.5" y1="-3.4" x2="6.9" y2="3.4" class="pl" style="stroke-width:0.7"/>
<line x1="8" y1="-3.4" x2="9.4" y2="3.4" class="pl" style="stroke-width:0.7"/>
<line x1="10.5" y1="-3.4" x2="11.9" y2="3.4" class="pl" style="stroke-width:0.7"/>
</g>
<path d="M365.4,101.3 L678,280" stroke="#fff" stroke-width="4" fill="none"/>
<path d="M109,245 L441,432.7" stroke="#fff" stroke-width="4" fill="none"/>
<path d="M772.9,199.2 L757.6,216 L757.3,299.3 L746,311" stroke="#fff" stroke-width="4" fill="none"/>
<path d="M771.3,274.1 L828,318" stroke="#fff" stroke-width="4" fill="none"/>
<path d="M746,311 L852,373" stroke="#fff" stroke-width="4" fill="none"/>
<path d="M948.5,202 L924.2,221.2" stroke="#fff" stroke-width="4" fill="none"/>
<path d="M906.9,234.2 L781.7,308.2" stroke="#fff" stroke-width="4" fill="none"/>
<path d="M930,157.7 L905.8,176.2" stroke="#fff" stroke-width="4" fill="none"/>
<path d="M525,380.6 L602,394.6" stroke="#fff" stroke-width="4" fill="none"/>
<path d="M563.5,392.6 L617.4,430.8" stroke="#fff" stroke-width="4" fill="none"/>
<path d="M602,395 L713,461" stroke="#fff" stroke-width="4" fill="none"/>
<path d="M741,387 L763,404" stroke="#fff" stroke-width="4" fill="none"/>
<path d="M542.1,507.4 L611,556" stroke="#fff" stroke-width="4" fill="none"/>
<path d="M285.2,527.3 L376,485.8" stroke="#fff" stroke-width="4" fill="none"/>
<path d="M301.9,572.3 L393.3,530.3 L467.1,489" stroke="#fff" stroke-width="4" fill="none"/>
<path d="M808,438.6 L833,452" stroke="#fff" stroke-width="4" fill="none"/>
<path class="ds" d="M365.4,101.3 L678,280"/>
<path class="ds" d="M109,245 L441,432.7"/>
<path class="ds" d="M772.9,199.2 L757.6,216 L757.3,299.3 L746,311" style="stroke-dashoffset:24"/>
<path class="ds" d="M771.3,274.1 L828,318"/>
<path class="ds" d="M746,311 L852,373"/>
<path class="ds" d="M948.5,202 L924.2,221.2"/>
<path class="ds" d="M906.9,234.2 L781.7,308.2"/>
<path class="ds" d="M930,157.7 L905.8,176.2"/>
<path class="ds" d="M525,380.6 L602,394.6"/>
<path class="ds" d="M563.5,392.6 L617.4,430.8"/>
<path class="ds" d="M602,395 L713,461"/>
<path class="ds" d="M741,387 L763,404"/>
<path class="ds" d="M542.1,507.4 L611,556"/>
<path class="ds" d="M285.2,527.3 L376,485.8"/>
<path class="ds" d="M301.9,572.3 L393.3,530.3 L467.1,489"/>
<path class="ds" d="M808,438.6 L833,452"/>
<ellipse cx="691.7" cy="448.7" rx="11.5" ry="12.8" transform="rotate(0 691.7 448.7)" class="pt" />
<ellipse cx="691.3" cy="448.7" rx="5.5" ry="6.5" transform="rotate(0 691.3 448.7)" class="pw" />
<line class="ld" x1="419.3" y1="77.3" x2="367.3" y2="89.3"/>
<line class="ld" x1="785.7" y1="148.6" x2="781.3" y2="176.8"/>
<line class="ld" x1="876.6" y1="121.9" x2="870.7" y2="162.6"/>
<line class="ld" x1="711.3" y1="229.6" x2="721.5" y2="261.2"/>
<line class="ld" x1="977.3" y1="229.7" x2="957.7" y2="202.7"/>
<line class="ld" x1="521.8" y1="331.8" x2="516.5" y2="362.7"/>
<line class="ld" x1="435.6" y1="364.5" x2="447.3" y2="400"/>
<line class="ld" x1="683.1" y1="414.5" x2="689.7" y2="434.6"/>
<line class="ld" x1="664.1" y1="502.4" x2="649.3" y2="471.9"/>
<line class="ld" x1="656.7" y1="533.3" x2="628" y2="555.8"/>
<line class="ld" x1="943.7" y1="434.2" x2="867.5" y2="458.8"/>
<line class="ld" x1="947.3" y1="415.4" x2="858" y2="349"/>
<line class="ld" x1="332" y1="444.2" x2="343.6" y2="470.8"/>
<line class="ld" x1="256.5" y1="497" x2="272.6" y2="524"/>
<line class="ld" x1="43.5" y1="340.7" x2="77" y2="300.3"/>
<line class="ld" x1="787.6" y1="528.9" x2="751.2" y2="505.1"/>

<circle class="c" cx="438.4" cy="72.4" r="18.8"/><text class="t" transform="translate(438.4 80.8) scale(1.1 1)" x="0" y="0">1</text>
<circle class="c" cx="705" cy="210.8" r="18.8"/><text class="t" transform="translate(705 219.2) scale(1.1 1)" x="0" y="0">2</text>
<circle class="c" cx="787.9" cy="129.2" r="18.8"/><text class="t" transform="translate(787.9 137.6) scale(1.1 1)" x="0" y="0">3</text>
<circle class="c" cx="879" cy="102.9" r="18.8"/><text class="t" transform="translate(879 111.3) scale(1.1 1)" x="0" y="0">4</text>
<circle class="c" cx="989.1" cy="244.8" r="18.8"/><text class="t" transform="translate(989.1 253.2) scale(1.1 1)" x="0" y="0">5</text>
<circle class="c" cx="525" cy="312.9" r="18.8"/><text class="t" transform="translate(525 321.3) scale(1.1 1)" x="0" y="0">3</text>
<circle class="c" cx="429.5" cy="345.8" r="18.8"/><text class="t" transform="translate(429.5 354.2) scale(1.1 1)" x="0" y="0">8</text>
<circle class="c" cx="677.2" cy="396" r="18.8"/><text class="t" transform="translate(677.2 404.4) scale(1.1 1)" x="0" y="0">12</text>
<circle class="c" cx="673" cy="520" r="18.8"/><text class="t" transform="translate(673 528.4) scale(1.1 1)" x="0" y="0">6</text>
<circle class="c" cx="962.6" cy="427.3" r="18.8"/><text class="t" transform="translate(962.6 435.7) scale(1.1 1)" x="0" y="0">6</text>
<circle class="c" cx="324" cy="425.8" r="18.8"/><text class="t" transform="translate(324 434.2) scale(1.1 1)" x="0" y="0">9</text>
<circle class="c" cx="250" cy="479.4" r="18.8"/><text class="t" transform="translate(250 487.8) scale(1.1 1)" x="0" y="0">10</text>
<circle class="c" cx="30.9" cy="355.8" r="18.8"/><text class="t" transform="translate(30.9 364.2) scale(1.1 1)" x="0" y="0">11</text>
<circle class="c" cx="803.7" cy="539.1" r="18.8"/><text class="t" transform="translate(803.7 547.5) scale(1.1 1)" x="0" y="0">7</text>

</svg>
</body></html>
